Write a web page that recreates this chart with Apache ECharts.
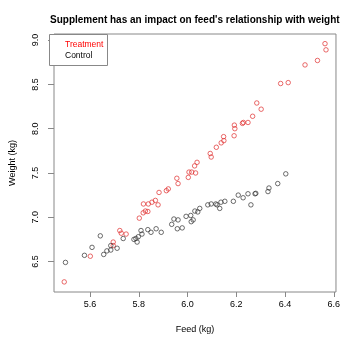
<!DOCTYPE html>
<html><head><meta charset="utf-8">
<script src="https://cdn.jsdelivr.net/npm/echarts@6/dist/echarts.min.js"></script>
<style>html,body{margin:0;padding:0;background:#fff}#c{width:343px;height:339px}</style>
</head><body><div id="c"></div>
<script>
const treatmentFeed = [5.494,5.601,5.695,5.695,5.722,5.728,5.748,5.802,5.818,5.827,5.837,5.819,5.839,5.854,5.868,5.879,5.883,5.913,5.921,5.961,5.956,6.003,6.006,6.017,6.033,6.029,6.039,6.093,6.097,6.118,6.138,6.149,6.148,6.191,6.192,6.194,6.225,6.229,6.248,6.267,6.302,6.284,6.382,6.413,6.482,6.533,6.568,6.564];
const treatmentWeight = [6.27,6.56,6.72,6.68,6.85,6.82,6.81,6.99,7.05,7.07,7.065,7.15,7.15,7.17,7.19,7.14,7.28,7.30,7.32,7.38,7.44,7.45,7.51,7.51,7.50,7.58,7.62,7.72,7.68,7.79,7.84,7.865,7.91,7.92,8.04,8.00,8.06,8.07,8.07,8.14,8.22,8.29,8.51,8.52,8.72,8.77,8.89,8.96];
const controlFeed = [5.499,5.577,5.608,5.642,5.656,5.669,5.685,5.685,5.711,5.736,5.78,5.788,5.793,5.798,5.809,5.813,5.837,5.85,5.871,5.892,5.935,5.944,5.961,5.958,5.978,5.994,6.013,6.015,6.023,6.03,6.042,6.05,6.083,6.097,6.116,6.121,6.132,6.137,6.153,6.188,6.208,6.228,6.248,6.26,6.277,6.280,6.330,6.334,6.37,6.403];
const controlWeight = [6.49,6.57,6.66,6.79,6.58,6.62,6.63,6.68,6.65,6.76,6.75,6.76,6.72,6.78,6.85,6.81,6.86,6.83,6.87,6.83,6.92,6.98,6.97,6.87,6.88,7.01,7.02,6.95,6.97,7.07,7.06,7.10,7.14,7.15,7.15,7.14,7.10,7.17,7.18,7.18,7.25,7.22,7.265,7.14,7.265,7.27,7.29,7.33,7.38,7.49];
const xTicks = [5.6,5.8,6.0,6.2,6.4,6.6];
const yTicks = [6.5,7.0,7.5,8.0,8.5,9.0];
const seriesNames = ['Treatment','Control'];
const seriesColors = ['#ff0000','#000000'];

const zip = (a,b) => a.map((v,i)=>[v,b[i]]);
const chart = echarts.init(document.getElementById('c'), null, {renderer:'canvas'});
const font = 'Liberation Sans, Arial, sans-serif';
chart.setOption({
  animation:false,
  title:{text:"Supplement has an impact on feed's relationship with weight", left:45, top:10,
    textStyle:{fontFamily:font,fontSize:10,fontWeight:'bold',color:'#000'}},
  grid:{left:49,top:34,width:292,height:262,show:true,borderColor:'#888',borderWidth:1,containLabel:false},
  xAxis:{type:'value',min:5.452,max:6.609,name:'Feed (kg)',nameLocation:'middle',nameGap:33,
    nameTextStyle:{fontFamily:font,fontSize:9,color:'#000'},
    axisLine:{show:false},splitLine:{show:false},
    axisTick:{show:true,length:5,inside:false,customValues:xTicks,lineStyle:{color:'#888'}},
    axisLabel:{customValues:xTicks,margin:8,fontFamily:font,fontSize:9,color:'#000',formatter:v=>v.toFixed(1)}},
  yAxis:{type:'value',min:6.156,max:9.069,name:'Weight (kg)',nameLocation:'middle',nameGap:37,nameRotate:90,
    nameTextStyle:{fontFamily:font,fontSize:9,color:'#000'},
    axisLine:{show:false},splitLine:{show:false},
    axisTick:{show:true,length:6,inside:false,customValues:yTicks,lineStyle:{color:'#888'}},
    axisLabel:{customValues:yTicks,rotate:90,margin:14,fontFamily:font,fontSize:9,color:'#000',formatter:v=>v.toFixed(1)}},
  legend:{show:false},
  graphic:[
    {type:'rect',left:49,top:34,shape:{width:58,height:31},style:{fill:'#fff',stroke:'#888',lineWidth:1},z:10},
    {type:'text',left:65,top:40,style:{text:seriesNames[0],fill:seriesColors[0],font:'8.5px '+font},z:11},
    {type:'text',left:65,top:51,style:{text:seriesNames[1],fill:seriesColors[1],font:'8.5px '+font},z:11}
  ],
  series:[
    {name:seriesNames[0],type:'scatter',data:zip(treatmentFeed,treatmentWeight),symbol:'circle',symbolSize:4.5,
      itemStyle:{color:'transparent',borderColor:'#e03030',borderWidth:0.9}},
    {name:seriesNames[1],type:'scatter',data:zip(controlFeed,controlWeight),symbol:'circle',symbolSize:4.5,
      itemStyle:{color:'transparent',borderColor:'#333',borderWidth:0.9}}
  ]
});
</script></body></html>
